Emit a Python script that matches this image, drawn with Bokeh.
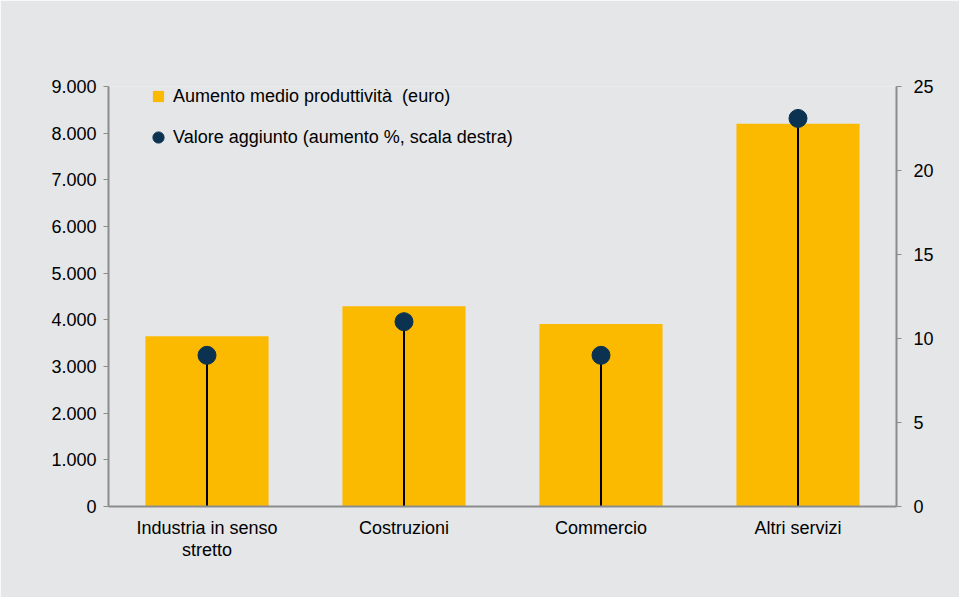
from bokeh.plotting import figure
from bokeh.models import (ColumnDataSource, Range1d, LinearAxis, FixedTicker,
                          Legend, LegendItem, FactorRange)
from bokeh.embed import file_html
from bokeh.resources import INLINE

# ---- data ----
categories = ["Industria in senso\nstretto", "Costruzioni", "Commercio", "Altri servizi"]
productivity = [3650, 4290, 3910, 8200]      # euro (left axis)
value_added = [9.0, 11.0, 9.0, 23.1]          # % (right axis)
left_ticks = [0, 1000, 2000, 3000, 4000, 5000, 6000, 7000, 8000, 9000]
left_tick_labels = ["0", "1.000", "2.000", "3.000", "4.000", "5.000", "6.000", "7.000", "8.000", "9.000"]
right_ticks = [0, 5, 10, 15, 20, 25]
label_bar = "Aumento medio produttività  (euro)"
label_dot = "Valore aggiunto (aumento %, scala destra)"

BG = "#e5e6e8"
BAR = "#fbba00"
DOT = "#0b3250"
AXIS = "#8c8c8c"
FONT = "Liberation Sans"
FS = "18px"

src = ColumnDataSource(dict(cat=categories, prod=productivity, va=value_added,
                            zero=[0] * len(categories)))

p = figure(x_range=FactorRange(*categories, range_padding=0),
           y_range=Range1d(0, 9000),
           frame_width=788, frame_height=420,
           min_border_left=108, min_border_right=63,
           min_border_top=86, min_border_bottom=91,
           output_backend="svg", toolbar_location=None,
           background_fill_color=BG, border_fill_color=BG)
p.outline_line_color = None
p.grid.visible = False
p.extra_y_ranges = {"right": Range1d(0, 25)}

bars = p.vbar(x="cat", top="prod", width=0.625, source=src,
              fill_color=BAR, line_color=None)
p.segment(x0="cat", y0="zero", x1="cat", y1="va", source=src,
          line_color="black", line_width=2, y_range_name="right")
dots = p.scatter(x="cat", y="va", source=src, size=18, marker="circle",
                 fill_color=DOT, line_color=DOT, y_range_name="right")

# left axis
ya = p.yaxis[0]
ya.ticker = FixedTicker(ticks=left_ticks)
ya.major_label_overrides = {t: l for t, l in zip(left_ticks, left_tick_labels)}

# right axis
ra = LinearAxis(y_range_name="right", ticker=FixedTicker(ticks=right_ticks))
p.add_layout(ra, "right")

for ax in [ya, ra]:
    ax.axis_line_color = AXIS
    ax.axis_line_width = 2
    ax.major_tick_line_color = AXIS
    ax.major_tick_in = 0
    ax.major_tick_out = 5
    ax.minor_tick_line_color = None
    ax.major_label_text_font = FONT
    ax.major_label_text_font_size = FS
    ax.major_label_text_color = "black"
ya.major_label_standoff = 7
ra.major_label_standoff = 12

xa = p.xaxis[0]
xa.axis_line_color = AXIS
xa.axis_line_width = 2
xa.major_tick_line_color = None
xa.minor_tick_line_color = None
xa.major_label_text_font = FONT
xa.major_label_text_font_size = FS
xa.major_label_text_color = "black"
xa.major_label_standoff = 5
xa.major_label_text_line_height = 1.1

# legend: zero-size square markers on the bar data act as the bar swatch
proxy = p.scatter(x="cat", y="prod", source=src, size=0,
                  marker="square", fill_color=BAR, line_color=None)
legend = Legend(items=[LegendItem(label=label_bar, renderers=[proxy]),
                       LegendItem(label=label_dot, renderers=[dots])],
                location=(36, 355), orientation="vertical",
                glyph_width=28, glyph_height=28, spacing=13,
                label_standoff=1, padding=0, margin=0,
                background_fill_alpha=0, border_line_color=None,
                label_text_font=FONT, label_text_font_size=FS,
                label_text_color="black")
p.add_layout(legend, "center")

open("out.html", "w").write(file_html(p, INLINE))
